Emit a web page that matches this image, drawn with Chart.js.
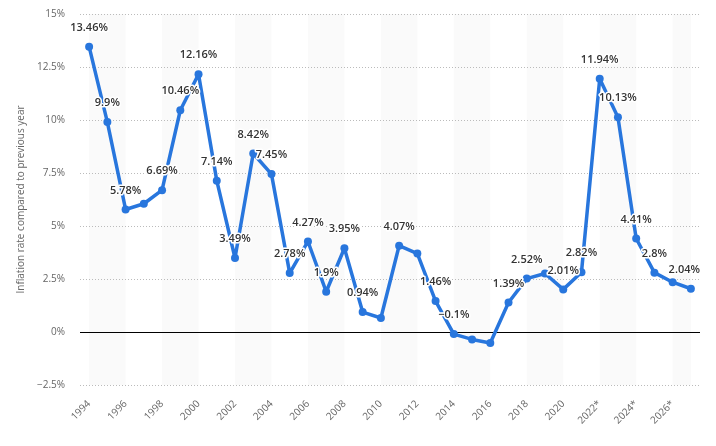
<!DOCTYPE html>
<html>
<head>
<meta charset="utf-8">
<script src="https://cdn.jsdelivr.net/npm/chart.js@4.4.1/dist/chart.umd.min.js"></script>
<style>
	html, body { margin: 0; padding: 0; background: #ffffff; }
	#wrap { width: 716px; height: 446px; }
</style>
</head>
<body>
<div id="wrap"><canvas id="main_chart" width="716" height="446"></canvas></div>
<script>
const years = ['1994', '1995', '1996', '1997', '1998', '1999', '2000', '2001', '2002', '2003',
	'2004', '2005', '2006', '2007', '2008', '2009', '2010', '2011', '2012', '2013',
	'2014', '2015', '2016', '2017', '2018', '2019', '2020', '2021', '2022*', '2023*',
	'2024*', '2025*', '2026*', '2027*'];
const inflation = [13.46, 9.9, 5.78, 6.05, 6.69, 10.46, 12.16, 7.14, 3.49, 8.42,
	7.45, 2.78, 4.27, 1.9, 3.95, 0.94, 0.66, 4.07, 3.7, 1.46,
	-0.1, -0.35, -0.52, 1.39, 2.52, 2.76, 2.01, 2.82, 11.94, 10.13,
	4.41, 2.8, 2.35, 2.04];
// which points carry a value label in the original
const showLabel = [1, 1, 1, 0, 1, 1, 1, 1, 1, 1,
	1, 1, 1, 1, 1, 1, 0, 1, 0, 1,
	1, 0, 0, 1, 1, 0, 1, 1, 1, 1,
	1, 1, 0, 1];
const yTicks = [-2.5, 0, 2.5, 5, 7.5, 10, 12.5, 15];

const blue = '#2876dd';
const gray = '#666666';

function fmtPct(v) {
	return String(v).replace('-', '\u2212') + '%';
}

// light bands behind every other pair of years
const bandPlugin = {
	id: 'bands',
	beforeDraw(chart) {
		const x = chart.scales.x;
		const area = chart.chartArea;
		const c = chart.ctx;
		c.save();
		c.fillStyle = '#fafafa';
		for (let i = 0; i < years.length; i += 4) {
			const x1 = x.getPixelForValue(i);
			const x2 = x.getPixelForValue(Math.min(i + 2, years.length - 1));
			c.fillRect(x1, area.top, x2 - x1, area.bottom - area.top);
		}
		c.restore();
	}
};

const zeroLinePlugin = {
	id: 'zeroLine',
	beforeDatasetsDraw(chart) {
		const y = Math.round(chart.scales.y.getPixelForValue(0)) + 0.5;
		const area = chart.chartArea;
		const c = chart.ctx;
		c.save();
		c.strokeStyle = '#000000';
		c.lineWidth = 1;
		c.beginPath();
		c.moveTo(area.left, y);
		c.lineTo(area.right, y);
		c.stroke();
		c.restore();
	}
};

const valueLabelPlugin = {
	id: 'valueLabels',
	afterDatasetsDraw(chart) {
		const meta = chart.getDatasetMeta(0);
		const area = chart.chartArea;
		const c = chart.ctx;
		c.save();
		c.font = "600 11px 'Open Sans'";
		c.textAlign = 'center';
		c.textBaseline = 'middle';
		c.lineJoin = 'round';
		meta.data.forEach((pt, i) => {
			if (!showLabel[i]) return;
			const text = fmtPct(inflation[i]);
			const w = c.measureText(text).width;
			let x = pt.x;
			if (x + w / 2 > area.right) x = area.right - w / 2;
			const y = pt.y - 19;
			c.strokeStyle = '#ffffff';
			c.lineWidth = 3;
			c.strokeText(text, x, y);
			c.fillStyle = '#333333';
			c.fillText(text, x, y);
		});
		c.restore();
	}
};

new Chart(document.getElementById('main_chart'), {
	type: 'line',
	data: {
		labels: years,
		datasets: [{
			data: inflation,
			borderColor: blue,
			backgroundColor: blue,
			borderWidth: 3.5,
			borderJoinStyle: 'round',
			pointRadius: 4,
			pointBackgroundColor: blue,
			pointBorderColor: blue,
			pointBorderWidth: 0,
			tension: 0,
		}]
	},
	options: {
		responsive: false,
		animation: false,
		layout: {
			padding: { left: 0, right: 16, top: 14, bottom: 0 }
		},
		plugins: {
			legend: { display: false },
			tooltip: { enabled: false },
		},
		scales: {
			x: {
				offset: true,
				grid: { display: false },
				border: { display: false },
				ticks: {
					autoSkip: false,
					maxRotation: 45,
					minRotation: 45,
					padding: 5,
					color: gray,
					font: { family: 'Open Sans', size: 10 },
					callback: function (val, idx) {
						return idx % 2 === 0 ? this.getLabelForValue(val) : '';
					}
				},
				afterFit(scale) { scale.height = 61; }
			},
			y: {
				min: -2.5,
				max: 15,
				afterBuildTicks(scale) {
					scale.ticks = yTicks.map(v => ({ value: v }));
				},
				grid: {
					color: '#bbbbbb',
					drawTicks: false,
				},
				border: { display: false, dash: [1, 2] },
				ticks: {
					padding: 15,
					color: gray,
					font: { family: 'Open Sans', size: 10 },
					callback: v => fmtPct(v),
				},
				title: {
					display: true,
					text: 'Inflation rate compared to previous year',
					color: gray,
					font: { family: 'Open Sans', size: 10 },
					padding: { top: 15, bottom: 0 },
				},
				afterFit(scale) {
					scale.width = 80;
					scale.paddingTop = 0;
					scale.paddingBottom = 0;
				}
			}
		}
	},
	plugins: [bandPlugin, zeroLinePlugin, valueLabelPlugin]
});
</script>
</body>
</html>
